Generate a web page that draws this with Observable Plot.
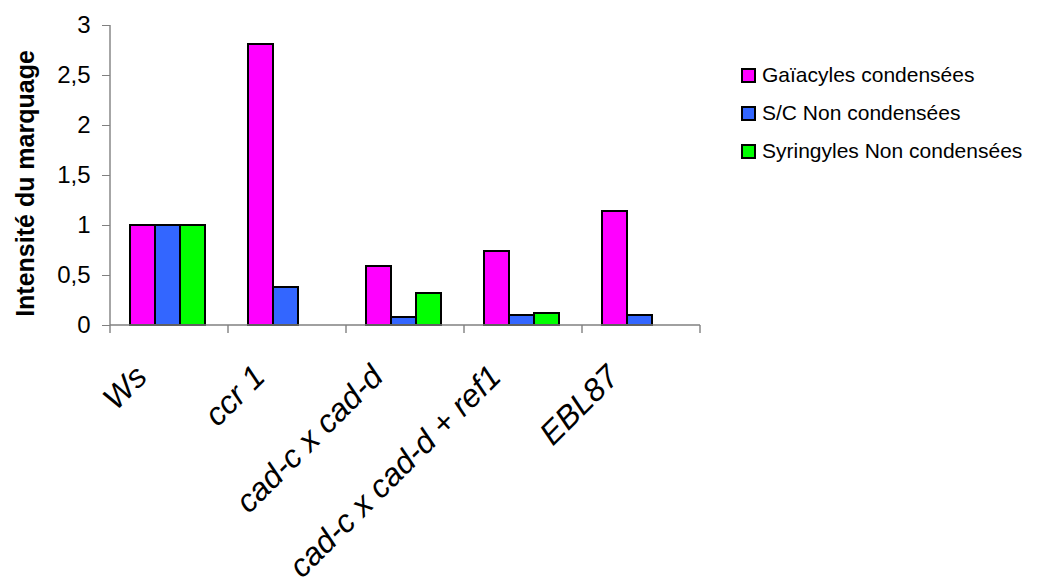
<!DOCTYPE html>
<html><head><meta charset="utf-8">
<script src="https://cdn.jsdelivr.net/npm/d3@7"></script>
<script src="https://cdn.jsdelivr.net/npm/@observablehq/plot@0.6"></script>
<style>
body{margin:0;background:#fff;font-family:"Liberation Sans",Arial,sans-serif;}
#wrap{position:relative;width:1039px;height:586px;overflow:hidden;}
#legend{position:absolute;left:741px;top:56px;}
.item{display:flex;align-items:center;height:38px;font-size:21px;color:#000;white-space:nowrap;}
.sw{width:11px;height:11px;border:2px solid #000;margin-right:6px;flex:none;}
</style></head><body><div id="wrap"><div id="legend"></div></div>
<script>
const categories = ["Ws", "ccr 1", "cad-c x cad-d", "cad-c x cad-d + ref1", "EBL87"];
const seriesNames = ["Gaïacyles condensées", "S/C Non condensées", "Syringyles Non condensées"];
const seriesColors = ["#FF00FF", "#3366FF", "#00FF00"];
const gaiacyles = [1, 2.81, 0.59, 0.74, 1.14];
const scNonCondensees = [1, 0.38, 0.08, 0.10, 0.10];
const syringyles = [1, null, 0.32, 0.12, null];
const yTicks = [0, 0.5, 1, 1.5, 2, 2.5, 3];
const yTitle = "Intensité du marquage";

const seriesValues = [gaiacyles, scNonCondensees, syringyles];
const rows = [];
categories.forEach((c, i) => {
  seriesNames.forEach((s, j) => {
    const v = seriesValues[j][i];
    if (v != null) rows.push({category: c, series: s, value: v});
  });
});

function axesRender(index, scales, values, dimensions) {
  const {fx, y} = scales;
  const left = dimensions.marginLeft;
  const right = dimensions.width - dimensions.marginRight;
  const y0 = y(0);
  const g = d3.create("svg:g").attr("stroke", "#808080").attr("stroke-width", 1.4).attr("fill", "none");
  g.append("line").attr("x1", left).attr("x2", right).attr("y1", y0).attr("y2", y0);
  g.append("line").attr("x1", left).attr("x2", left).attr("y1", y(yTicks[yTicks.length - 1])).attr("y2", y0);
  const edges = categories.map(c => fx(c));
  edges.push(fx(categories[categories.length - 1]) + fx.bandwidth());
  for (const e of edges) g.append("line").attr("x1", e).attr("x2", e).attr("y1", y0).attr("y2", y0 + 8);
  return g.node();
}

const chart = Plot.plot({
  width: 1039, height: 586,
  marginLeft: 108, marginRight: 337, marginTop: 25, marginBottom: 261,
  style: {fontFamily: "'Liberation Sans', Arial, sans-serif", background: "transparent", color: "#000"},
  fx: {domain: categories, padding: 0, label: null},
  x: {domain: seriesNames, paddingInner: 0, paddingOuter: 0.8, align: 0.46, axis: null},
  y: {domain: [0, 3], label: null},
  color: {domain: seriesNames, range: seriesColors},
  marks: [
    Plot.barY(rows, {fx: "category", x: "series", y: "value", fill: "series", stroke: "#000", strokeWidth: 2}),
    Plot.frame({facet: "super", render: axesRender}),
    Plot.axisY({ticks: yTicks, tickFormat: d => String(d).replace(".", ","), tickSize: 8, tickPadding: 12, fontSize: 24, stroke: "#808080", fill: "#000", label: null}),
    Plot.axisFx({anchor: "bottom", tickSize: 0, tickPadding: 0, tickRotate: -45, fontSize: 32, fontStyle: "italic", fill: "#000", dx: -28, dy: 46, label: null}),
    Plot.text([{category: categories[0], t: yTitle}], {fx: "category", text: "t", frameAnchor: "left", textAnchor: "middle", lineAnchor: "middle", rotate: -90, dx: -85, dy: 8, fontWeight: "bold", fontSize: 25, fill: "#000"})
  ]
});
document.getElementById("wrap").prepend(chart);

const legend = d3.select("#legend");
seriesNames.forEach((s, j) => {
  const it = legend.append("div").attr("class", "item");
  it.append("div").attr("class", "sw").style("background", seriesColors[j]);
  it.append("span").text(s);
});
</script>
</body></html>
